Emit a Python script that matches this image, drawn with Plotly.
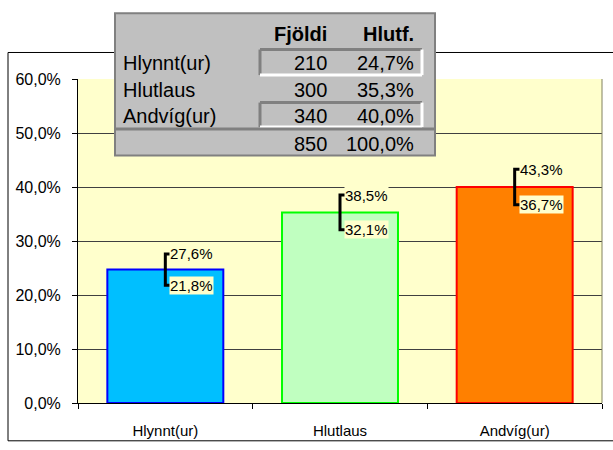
import plotly.graph_objects as go

categories = ["Hlynnt(ur)", "Hlutlaus", "Andvíg(ur)"]
counts = [210, 300, 340]
total = 850
percent = [24.7, 35.3, 40.0]
ci_high = [27.6, 38.5, 43.3]
ci_low = [21.8, 32.1, 36.7]
header = ["Fjöldi", "Hlutf."]

fills = ["#00BFFF", "#C0FFC0", "#FF8000"]
borders = ["#0000FF", "#00FF00", "#FF0000"]

def fmt(v, d=1):
    return f"{v:.{d}f}".replace(".", ",") + "%"

W, H = 613, 450
L, R, T, B = 78, 602, 79, 409   # plot area in pixels

def px(x):
    return (x - L) / (R - L)

def py(y):
    return (B - y) / (B - T)

FONT = "Liberation Sans, Arial, sans-serif"

fig = go.Figure()
xs = list(range(len(categories)))
fig.add_trace(go.Bar(
    x=xs, y=percent, width=0.664,
    marker=dict(color=fills, line=dict(color=borders, width=2)),
    hoverinfo="skip", showlegend=False,
))

cap = 0.03
for i in xs:
    fig.add_trace(go.Scatter(
        x=[i + cap, i, i, i + cap], y=[ci_high[i], ci_high[i], ci_low[i], ci_low[i]],
        mode="lines", line=dict(color="black", width=3),
        hoverinfo="skip", showlegend=False,
    ))

annotations = []
for i in xs:
    for v in (ci_high[i], ci_low[i]):
        annotations.append(dict(
            x=i, y=v, xref="x", yref="y", text=fmt(v), showarrow=False,
            xanchor="left", yanchor="middle", xshift=4,
            font=dict(family=FONT, size=15, color="black"),
            bgcolor="#FFFFCC", borderpad=0,
        ))

shapes = []
shapes.append(dict(type="rect", xref="paper", yref="paper",
                   x0=px(8), x1=px(640), y0=py(447.5), y1=py(52),
                   line=dict(color="black", width=1), layer="below"))
shapes.append(dict(type="line", xref="paper", yref="paper",
                   x0=1, x1=1, y0=0, y1=1, line=dict(color="#808060", width=1)))
shapes.append(dict(type="rect", xref="paper", yref="paper",
                   x0=px(115), x1=px(435), y0=py(157), y1=py(12),
                   fillcolor="#C0C0C0", line=dict(color="#808080", width=2)))
for (ya, yb) in [(49, 75), (103, 128)]:
    shapes.append(dict(type="line", xref="paper", yref="paper", x0=px(260), x1=px(422),
                       y0=py(ya), y1=py(ya), line=dict(color="#808080", width=3)))
    shapes.append(dict(type="line", xref="paper", yref="paper", x0=px(260), x1=px(260),
                       y0=py(ya), y1=py(yb), line=dict(color="#808080", width=3)))
    shapes.append(dict(type="line", xref="paper", yref="paper", x0=px(260), x1=px(422),
                       y0=py(yb), y1=py(yb), line=dict(color="white", width=3)))
    shapes.append(dict(type="line", xref="paper", yref="paper", x0=px(422), x1=px(422),
                       y0=py(ya), y1=py(yb), line=dict(color="white", width=3)))
shapes.append(dict(type="line", xref="paper", yref="paper", x0=px(115), x1=px(435),
                   y0=py(130), y1=py(130), line=dict(color="#808080", width=3)))

tfont = dict(family=FONT, size=20, color="black")
annotations.append(dict(x=px(329), y=py(33), xref="paper", yref="paper", text="<b>" + header[0] + "</b>",
                        showarrow=False, xanchor="right", yanchor="middle", font=tfont))
annotations.append(dict(x=px(416), y=py(33), xref="paper", yref="paper", text="<b>" + header[1] + "</b>",
                        showarrow=False, xanchor="right", yanchor="middle", font=tfont))
row_y = [63, 90, 117]
for i, c in enumerate(categories):
    annotations.append(dict(x=px(121), y=py(row_y[i]), xref="paper", yref="paper", text=c,
                            showarrow=False, xanchor="left", yanchor="middle", font=tfont))
    annotations.append(dict(x=px(329), y=py(row_y[i]), xref="paper", yref="paper", text=str(counts[i]),
                            showarrow=False, xanchor="right", yanchor="middle", font=tfont))
    annotations.append(dict(x=px(416), y=py(row_y[i]), xref="paper", yref="paper", text=fmt(percent[i]),
                            showarrow=False, xanchor="right", yanchor="middle", font=tfont))
annotations.append(dict(x=px(329), y=py(145), xref="paper", yref="paper", text=str(total),
                        showarrow=False, xanchor="right", yanchor="middle", font=tfont))
annotations.append(dict(x=px(416), y=py(145), xref="paper", yref="paper", text=fmt(100.0),
                        showarrow=False, xanchor="right", yanchor="middle", font=tfont))

fig.update_layout(
    width=W, height=H,
    margin=dict(l=L, r=W - R, t=T, b=H - B, pad=0),
    paper_bgcolor="white", plot_bgcolor="#FFFFCC",
    separators=",.",
    font=dict(family=FONT, size=15, color="black"),
    shapes=shapes, annotations=annotations,
    xaxis=dict(
        range=[-0.5, 2.5], tickmode="array", tickvals=xs, ticktext=categories,
        ticks="", showgrid=False, zeroline=False,
        showline=True, linecolor="black", linewidth=1,
        minor=dict(tickmode="linear", tick0=-0.5, dtick=1, ticks="outside",
                   ticklen=5, tickcolor="black", tickwidth=1, showgrid=False),
        tickfont=dict(family=FONT, size=15), ticklabelstandoff=14,
        fixedrange=True,
    ),
    yaxis=dict(
        range=[0, 60], dtick=10, tickformat=".1f", ticksuffix="%",
        ticks="outside", ticklen=5, tickcolor="black",
        showgrid=True, gridcolor="#404040", gridwidth=1, zeroline=False,
        showline=True, linecolor="black", linewidth=1,
        tickfont=dict(family=FONT, size=16), ticklabelstandoff=8,
        fixedrange=True,
    ),
)

fig.write_html(
    "out.html",
    config={"displayModeBar": False},
    post_script="document.body.style.margin='0px';document.body.style.overflow='hidden';",
)
